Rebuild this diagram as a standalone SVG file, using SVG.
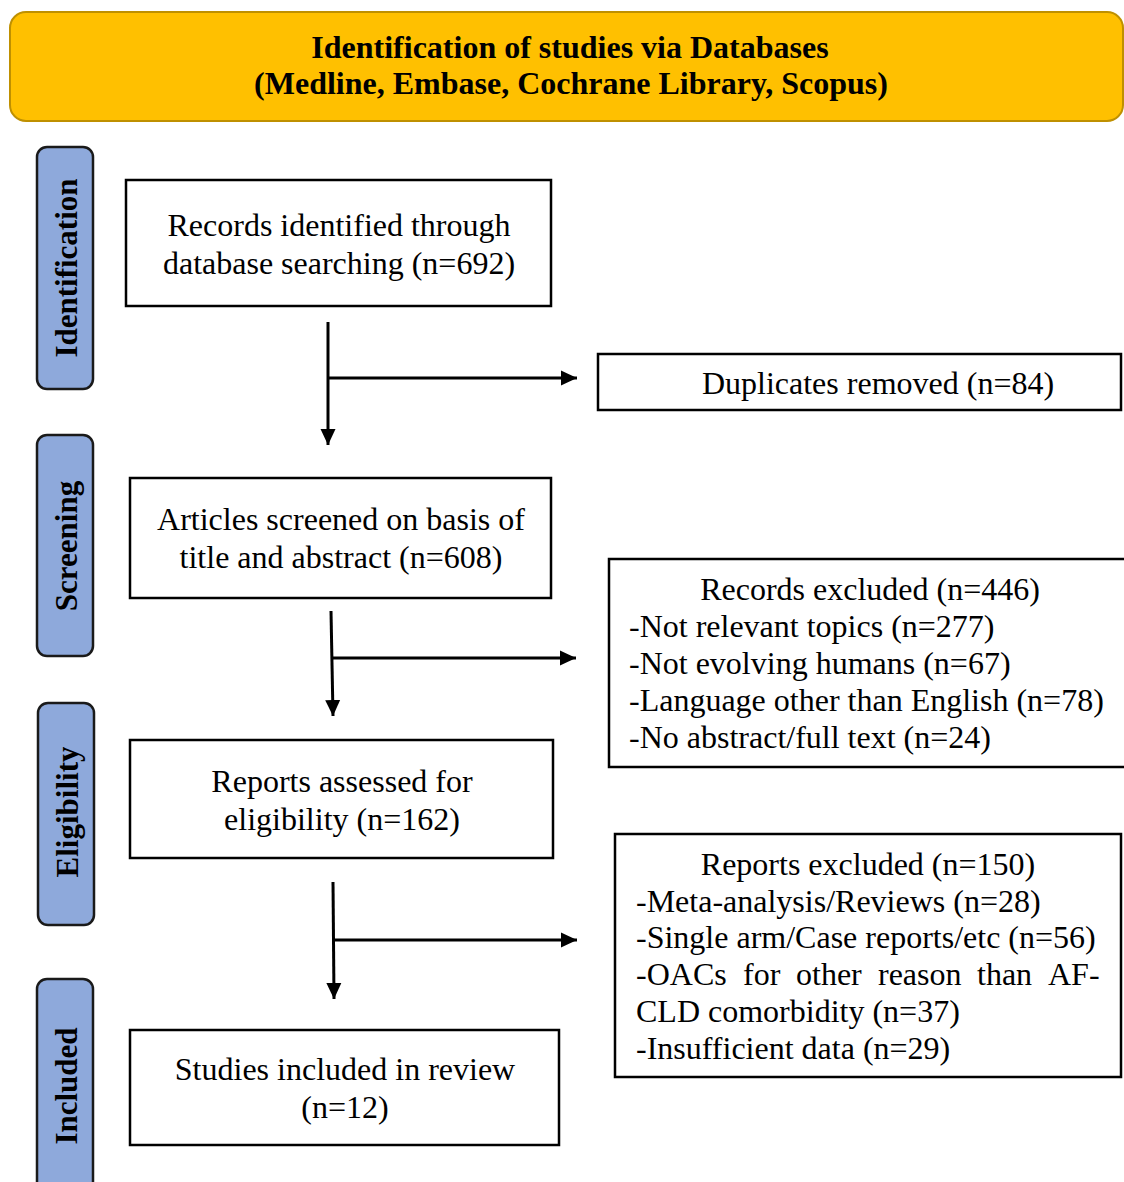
<svg xmlns="http://www.w3.org/2000/svg" width="1124" height="1182" viewBox="0 0 1124 1182">
<style>
.box{fill:#fff;stroke:#000;stroke-width:2.5}
.pill{fill:#8EA9DB;stroke:#1a1a1a;stroke-width:2.5}
.t{font-family:"Liberation Serif","Times New Roman",serif;font-size:32px;fill:#000}
.c{text-anchor:middle}
.side{font-family:"Liberation Serif","Times New Roman",serif;font-size:31px;font-weight:bold;fill:#000;text-anchor:middle}
.hd{font-family:"Liberation Serif","Times New Roman",serif;font-size:32px;font-weight:bold;fill:#000;text-anchor:middle}
.ln{stroke:#000;stroke-width:3;fill:none}
</style>
<defs>
<marker id="ah" markerUnits="userSpaceOnUse" markerWidth="17" markerHeight="16" refX="16" refY="8" orient="auto">
<path d="M0,0.5 L16,8 L0,15.5 Z" fill="#000"/>
</marker>
<clipPath id="clipS"><rect x="30" y="480" width="70" height="180"/></clipPath>
<clipPath id="clipE"><rect x="30" y="747" width="70" height="180"/></clipPath>
</defs>
<rect width="1124" height="1182" fill="#fff"/>

<g id="header">
<rect x="10" y="12" width="1113" height="109" rx="16" fill="#FFC000" stroke="#BF9000" stroke-width="2"/>
<text class="hd" x="570" y="58">Identification of studies via Databases</text>
<text class="hd" x="571" y="94">(Medline, Embase, Cochrane Library, Scopus)</text>
</g>

<g id="stage-identification">
<rect class="pill" x="37" y="147" width="56" height="242" rx="10"/>
<text class="side" transform="translate(77,268) rotate(-90)">Identification</text>
</g>
<g id="stage-screening">
<rect class="pill" x="37" y="435" width="56" height="221" rx="10"/>
<g clip-path="url(#clipS)"><text class="side" transform="translate(77,546) rotate(-90)">Screening</text></g>
</g>
<g id="stage-eligibility">
<rect class="pill" x="38" y="703" width="56" height="222" rx="10"/>
<g clip-path="url(#clipE)"><text class="side" transform="translate(78,812) rotate(-90)">Eligibility</text></g>
</g>
<g id="stage-included">
<rect class="pill" x="37" y="979" width="56" height="250" rx="10"/>
<text class="side" transform="translate(77,1086) rotate(-90)">Included</text>
</g>

<g id="records-identified">
<rect class="box" x="126" y="180" width="425" height="126"/>
<text class="t c" x="339" y="236">Records identified through</text>
<text class="t c" x="339" y="274">database searching (n=692)</text>
</g>
<g id="duplicates">
<rect class="box" x="598" y="354" width="523" height="56"/>
<text class="t c" x="878" y="394">Duplicates removed (n=84)</text>
</g>
<g id="screened">
<rect class="box" x="130" y="478" width="421" height="120"/>
<text class="t c" x="341" y="530">Articles screened on basis of</text>
<text class="t c" x="341" y="568">title and abstract (n=608)</text>
</g>
<g id="records-excluded">
<rect class="box" x="609" y="559" width="530" height="208"/>
<text class="t c" x="870" y="600">Records excluded (n=446)</text>
<text class="t" x="629" y="637">-Not relevant topics (n=277)</text>
<text class="t" x="629" y="674">-Not evolving humans (n=67)</text>
<text class="t" x="629" y="711">-Language other than English (n=78)</text>
<text class="t" x="629" y="748">-No abstract/full text (n=24)</text>
</g>
<g id="eligibility">
<rect class="box" x="130" y="740" width="423" height="118"/>
<text class="t c" x="342" y="792">Reports assessed for</text>
<text class="t c" x="342" y="830">eligibility (n=162)</text>
</g>
<g id="reports-excluded">
<rect class="box" x="615" y="834" width="506" height="243"/>
<text class="t c" x="868" y="875">Reports excluded (n=150)</text>
<text class="t" x="636" y="912">-Meta-analysis/Reviews (n=28)</text>
<text class="t" x="636" y="948">-Single arm/Case reports/etc (n=56)</text>
<text class="t" y="985"><tspan x="636">-OACs</tspan><tspan x="743">for</tspan><tspan x="796">other</tspan><tspan x="878">reason</tspan><tspan x="977">than</tspan><tspan x="1048">AF-</tspan></text>
<text class="t" x="636" y="1022">CLD comorbidity (n=37)</text>
<text class="t" x="636" y="1059">-Insufficient data (n=29)</text>
</g>
<g id="included">
<rect class="box" x="130" y="1030" width="429" height="115"/>
<text class="t c" x="345" y="1080">Studies included in review</text>
<text class="t c" x="345" y="1118">(n=12)</text>
</g>

<g id="connectors">
<line class="ln" x1="328" y1="322" x2="328" y2="445" marker-end="url(#ah)"/>
<line class="ln" x1="328" y1="378" x2="577" y2="378" marker-end="url(#ah)"/>
<line class="ln" x1="331" y1="611" x2="333" y2="716" marker-end="url(#ah)"/>
<line class="ln" x1="332" y1="658" x2="576" y2="658" marker-end="url(#ah)"/>
<line class="ln" x1="333" y1="882" x2="334" y2="999" marker-end="url(#ah)"/>
<line class="ln" x1="334" y1="940" x2="577" y2="940" marker-end="url(#ah)"/>
</g>
</svg>
